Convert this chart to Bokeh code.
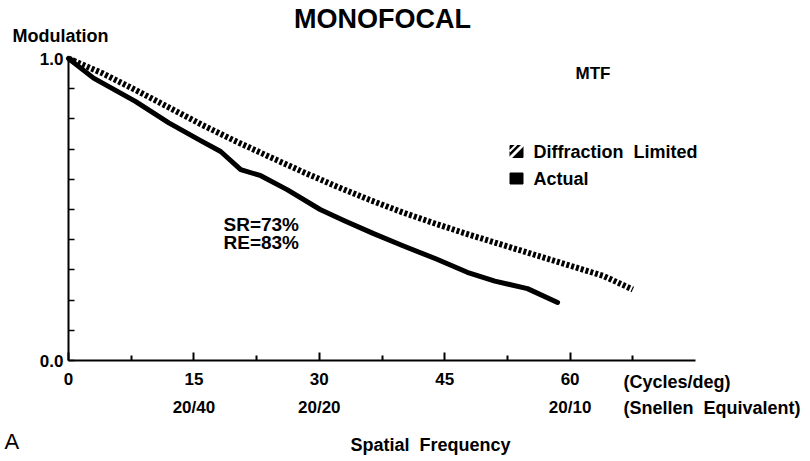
from bokeh.plotting import figure
from bokeh.models import Range1d, FixedTicker, Label, LabelSet, ColumnDataSource
from bokeh.core.properties import value
from bokeh.embed import file_html
from bokeh.resources import INLINE

# ---- data ----
diff_freq = [0, 4, 8, 12, 16, 20, 24, 28, 32, 36, 40, 44, 48, 52, 56, 60, 64, 67.5]
diff_mtf = [1.0, 0.952, 0.896, 0.838, 0.780, 0.726, 0.675, 0.625, 0.577, 0.532, 0.490, 0.452, 0.416, 0.382, 0.348, 0.314, 0.280, 0.235]

act_freq = [0, 3, 8, 12, 15.8, 18.2, 20.6, 23, 26.2, 30.1, 33, 36.5, 40, 44, 47.7, 51, 54.9, 58.5]
act_mtf = [1.0, 0.935, 0.858, 0.787, 0.728, 0.692, 0.632, 0.612, 0.565, 0.500, 0.463, 0.420, 0.380, 0.336, 0.292, 0.263, 0.238, 0.192]

x_ticks = [0, 15, 30, 45, 60]
x_tick_labels = ["0", "15", "30", "45", "60"]
x_minor = [7.5, 22.5, 37.5, 52.5, 67.5]
y_ticks = [0.0, 0.1, 0.2, 0.3, 0.4, 0.5, 0.6, 0.7, 0.8, 0.9, 1.0]
y_tick_labels = ["0.0", "", "", "", "", "", "", "", "", "", "1.0"]
snellen_freq = [15, 30, 60]
snellen_labels = ["20/40", "20/20", "20/10"]

FONT = "Liberation Sans"

# ---- layout: the frame fills the canvas, axes drawn at fixed locations ----
W, H = 805, 455
X0_PX, PX_PER_X = 68.0, 8.36      # page pixel of x=0, pixels per cycle/deg
Y0_PX, PX_PER_Y = 360.0, 302.0    # page pixel of y=0, pixels per unit modulation

def dx(px):
    return (px - X0_PX) / PX_PER_X

def dy(py):
    return (Y0_PX - py) / PX_PER_Y

p = figure(width=W, height=H, output_backend="svg", toolbar_location=None,
           x_range=Range1d(dx(0), dx(W)), y_range=Range1d(dy(H), dy(0)),
           min_border=0, min_border_left=0, min_border_right=0,
           min_border_top=0, min_border_bottom=0)
p.outline_line_color = None
p.grid.visible = False
p.background_fill_color = "white"
p.border_fill_color = "white"

# axes
xa = p.xaxis[0]
xa.fixed_location = 0
xa.bounds = (0, 75)
xa.ticker = FixedTicker(ticks=x_ticks, minor_ticks=x_minor)
xa.major_label_overrides = {t: l for t, l in zip(x_ticks, x_tick_labels)}
xa.axis_line_width = 2
xa.axis_line_color = "black"
xa.major_tick_in = 8
xa.major_tick_out = 0
xa.minor_tick_in = 5
xa.minor_tick_out = 0
xa.major_tick_line_width = 2
xa.minor_tick_line_width = 2
xa.major_label_standoff = 12
xa.major_label_text_font = FONT
xa.major_label_text_font_style = "bold"
xa.major_label_text_font_size = "17px"
xa.major_label_text_color = "black"

ya = p.yaxis[0]
ya.fixed_location = 0
ya.bounds = (0, 1)
ya.ticker = FixedTicker(ticks=y_ticks, minor_ticks=[])
ya.major_label_overrides = {t: l for t, l in zip(y_ticks, y_tick_labels)}
ya.axis_line_width = 2
ya.axis_line_color = "black"
ya.major_tick_in = 6
ya.major_tick_out = 0
ya.minor_tick_in = 0
ya.minor_tick_out = 0
ya.major_tick_line_width = 1.5
ya.major_label_standoff = 5
ya.major_label_text_font = FONT
ya.major_label_text_font_style = "bold"
ya.major_label_text_font_size = "17px"
ya.major_label_text_color = "black"

# curves
p.line(diff_freq, diff_mtf, line_width=6, line_color="black", line_dash="3 2", line_cap="butt")
p.line(act_freq, act_mtf, line_width=5, line_color="black", line_join="round", line_cap="round")

def lab(px, py, text, size="18px", style="bold", align="left"):
    p.add_layout(Label(x=dx(px), y=dy(py), text=text, text_font=FONT, text_font_style=style,
                       text_font_size=size, text_align=align, text_baseline="middle",
                       text_color="black"))

lab(382, 18, "MONOFOCAL", size="27px", align="center")
lab(12, 35, "Modulation")
lab(575, 72.5, "MTF", size="17px")
lab(533, 151, "Diffraction\u00a0 Limited")
lab(533, 178, "Actual")
lab(223, 223.5, "SR=73%", size="19px")
lab(223, 241.5, "RE=83%", size="19px")
lab(623, 381, "(Cycles/deg)")
lab(623, 407, "(Snellen\u00a0 Equivalent)")
lab(4, 441, "A", size="22px", style="normal")
lab(350, 444, "Spatial\u00a0 Frequency")

# Snellen equivalents under the frequency ticks
sn_src = ColumnDataSource(dict(x=snellen_freq, y=[dy(407)] * len(snellen_freq), t=snellen_labels))
p.add_layout(LabelSet(x="x", y="y", text="t", source=sn_src, text_align="center",
                      text_baseline="middle", text_font=value(FONT), text_font_style="bold",
                      text_font_size="17px", text_color="black"))

# legend icons (hatched square and solid square)
p.rect(x=[dx(516)], y=[dy(151)], width=13, height=12, width_units="screen", height_units="screen",
       fill_color="black", line_color="black")
p.segment(x0=[dx(509)], y0=[dy(158)], x1=[dx(523)], y1=[dy(144)], line_color="white", line_width=3)
p.segment(x0=[dx(509)], y0=[dy(151)], x1=[dx(516)], y1=[dy(144)], line_color="white", line_width=2)
p.rect(x=[dx(516)], y=[dy(178)], width=13, height=11, width_units="screen", height_units="screen",
       fill_color="black", line_color="black")

open("out.html", "w").write(file_html(p, INLINE))
